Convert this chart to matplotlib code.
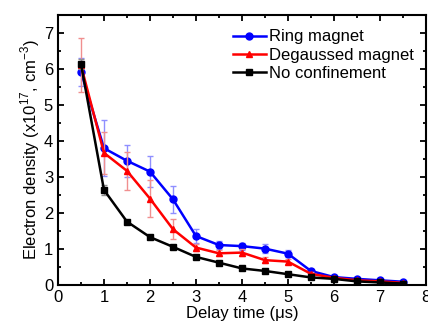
import numpy as np
import matplotlib.pyplot as plt
from matplotlib.ticker import MultipleLocator

plt.rcParams['font.family'] = ['Liberation Sans', 'DejaVu Sans']
plt.rcParams['mathtext.fontset'] = 'custom'
plt.rcParams['mathtext.rm'] = 'Liberation Sans'

# delay times (us)
delay = [0.5, 1.0, 1.5, 2.0, 2.5, 3.0, 3.5, 4.0, 4.5, 5.0, 5.5, 6.0, 6.5, 7.0, 7.5]

ring = [5.92, 3.80, 3.45, 3.15, 2.38, 1.36, 1.11, 1.08, 1.01, 0.87, 0.39, 0.22, 0.17, 0.13, 0.09]
ring_err = [0.38, 0.77, 0.44, 0.42, 0.38, 0.20, 0.12, 0.10, 0.12, 0.10, 0.06, 0.04, 0.03, 0.03, 0.03]

degauss = [6.10, 3.67, 3.17, 2.40, 1.55, 1.04, 0.88, 0.90, 0.69, 0.65, 0.31, 0.20, 0.13, 0.10, 0.06]
degauss_err = [0.75, 0.58, 0.52, 0.52, 0.28, 0.10, 0.08, 0.10, 0.08, 0.08, 0.05, 0.03, 0.03, 0.02, 0.02]

noconf = [6.14, 2.64, 1.76, 1.33, 1.06, 0.78, 0.62, 0.46, 0.39, 0.30, 0.21, 0.17, 0.10, 0.07, 0.04]
noconf_err = [0.15, 0.15, 0.05, 0.05, 0.04, 0.04, 0.03, 0.03, 0.03, 0.02, 0.02, 0.02, 0.02, 0.01, 0.01]

fig = plt.figure(figsize=(4.28, 3.30), dpi=100)
ax = fig.add_axes([0.1355, 0.1364, 0.8595, 0.8181])

series = [
    (ring, ring_err, 'blue', '#8f8fff', 'o', 'Ring magnet'),
    (degauss, degauss_err, 'red', '#f08f8f', '^', 'Degaussed magnet'),
    (noconf, noconf_err, 'black', '#909090', 's', 'No confinement'),
]
for y, err, c, ec, m, lab in series:
    ax.errorbar(delay, y, yerr=err, fmt='none', ecolor=ec, elinewidth=1,
                capsize=2.5, capthick=1)
    ax.plot(delay, y, color=c, marker=m, markersize=5, linewidth=1.8, label=lab)

ax.set_xlim(0, 8)
ax.set_ylim(0, 7.5)
ax.xaxis.set_major_locator(MultipleLocator(1))
ax.xaxis.set_minor_locator(MultipleLocator(0.5))
ax.yaxis.set_major_locator(MultipleLocator(1))
ax.yaxis.set_minor_locator(MultipleLocator(0.5))
ax.tick_params(which='both', direction='in', top=True, right=True, labelsize=12, width=1.3)
ax.tick_params(which='major', length=4)
ax.tick_params(which='minor', length=2)
for s in ax.spines.values():
    s.set_linewidth(1.5)

ax.set_xlabel('Delay time (\u03bcs)', fontsize=12, labelpad=1)
ax.set_ylabel('Electron density (x10$^{17}$, cm$^{-3}$)', fontsize=12, labelpad=1)

ax.legend(loc='upper right', frameon=False, fontsize=12, handlelength=2.0,
          handletextpad=0.2, labelspacing=0.2, borderaxespad=0.3,
          bbox_to_anchor=(1.0, 0.99))

fig.savefig('out.png', dpi=100)
